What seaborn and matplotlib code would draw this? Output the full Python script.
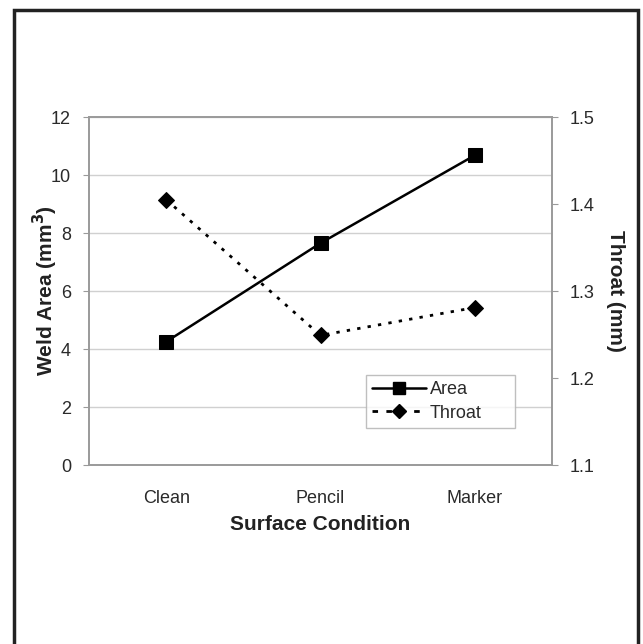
import pandas as pd
import matplotlib.pyplot as plt
import seaborn as sns
from matplotlib.lines import Line2D

# ===================== DATA =====================
conditions = ["Clean", "Pencil", "Marker"]
weld_area = [4.25, 7.65, 10.68]      # mm^3
throat = [1.405, 1.249, 1.281]       # mm

df = pd.DataFrame({"Condition": conditions, "Area": weld_area, "Throat": throat})

# ===================== STYLE =====================
sns.set_style("white")
plt.rcParams["font.family"] = ["Liberation Sans", "DejaVu Sans"]

fig = plt.figure(figsize=(6.43, 6.44), dpi=100)
ax = fig.add_axes([89 / 643, 1 - 465 / 644, 463 / 643, 348 / 644])
ax2 = ax.twinx()

grey = "#9a9a9a"
txt = "#2a2a2a"

# Area: solid line with squares
sns.lineplot(data=df, x="Condition", y="Area", ax=ax, color="black",
             linewidth=1.8, marker="s", markersize=10, markeredgecolor="black",
             sort=False)
# Throat: dotted line with diamonds
sns.lineplot(data=df, x="Condition", y="Throat", ax=ax2, color="black",
             linewidth=2, marker="D", markersize=8, markeredgecolor="black",
             sort=False, linestyle=(0, (1.2, 2.6)))

# ===================== AXES =====================
ax.set_xlim(-0.5, 2.5)
ax.set_ylim(0, 12)
ax.set_yticks(range(0, 13, 2))
ax2.set_ylim(1.1, 1.5)
ax2.set_yticks([1.1, 1.2, 1.3, 1.4, 1.5])
ax2.set_yticklabels(["1.1", "1.2", "1.3", "1.4", "1.5"])

ax.grid(axis="y", color="#d0d0d0", linewidth=1)
ax.set_axisbelow(True)

ax.set_xticks([0, 1, 2])
ax.set_xticklabels(conditions)
ax.set_xticks([0.5, 1.5], minor=True)
ax.tick_params(axis="x", which="major", length=0, pad=18, labelsize=13, labelcolor=txt)
ax.tick_params(axis="x", which="minor", length=5, direction="inout", color=grey, width=1)
ax.tick_params(axis="y", length=4, color=grey, labelsize=13, labelcolor=txt, pad=9, left=True)
ax2.tick_params(axis="y", length=4, color=grey, labelsize=13, labelcolor=txt, pad=9, right=True)

for a in (ax, ax2):
    for s in a.spines.values():
        s.set_color(grey)
        s.set_linewidth(1.2)

ax.set_xlabel("Surface Condition", fontsize=15, fontweight="bold", color="#222222", labelpad=6)
ax.set_ylabel("Weld Area (mm$^\\mathbf{3}$)", fontsize=15, fontweight="bold", color="#222222",
              va="center")
ax.yaxis.set_label_coords(-0.095, 0.5)
ax2.set_ylabel("Throat (mm)", fontsize=15, fontweight="bold", color="#222222",
               rotation=270, va="center")
ax2.yaxis.set_label_coords(1.138, 0.5)

# ===================== LEGEND =====================
handles = [
    Line2D([], [], color="black", linewidth=1.8, marker="s", markersize=8),
    Line2D([], [], color="black", linewidth=2, marker="D", markersize=7,
           linestyle=(0, (2, 3))),
]
leg = ax2.legend(handles, ["Area", "Throat"], loc="lower left",
                 bbox_to_anchor=(0.598, 0.106, 0.322, 0.172), mode="expand",
                 fontsize=13, handlelength=3.0, frameon=True, fancybox=False,
                 borderaxespad=0, labelspacing=0.35, handletextpad=0.2,
                 borderpad=0.35)
leg.get_frame().set_edgecolor("#b0b0b0")
leg.get_frame().set_linewidth(1)
for t in leg.get_texts():
    t.set_color(txt)

# ===================== FRAME =====================
fig.add_artist(plt.Rectangle((14 / 643, -0.01), (638 - 14) / 643, 1 - 10 / 644 + 0.01,
                             transform=fig.transFigure, fill=False,
                             edgecolor="#222222", linewidth=2.5))

fig.savefig("out.png", dpi=100, facecolor="white")
